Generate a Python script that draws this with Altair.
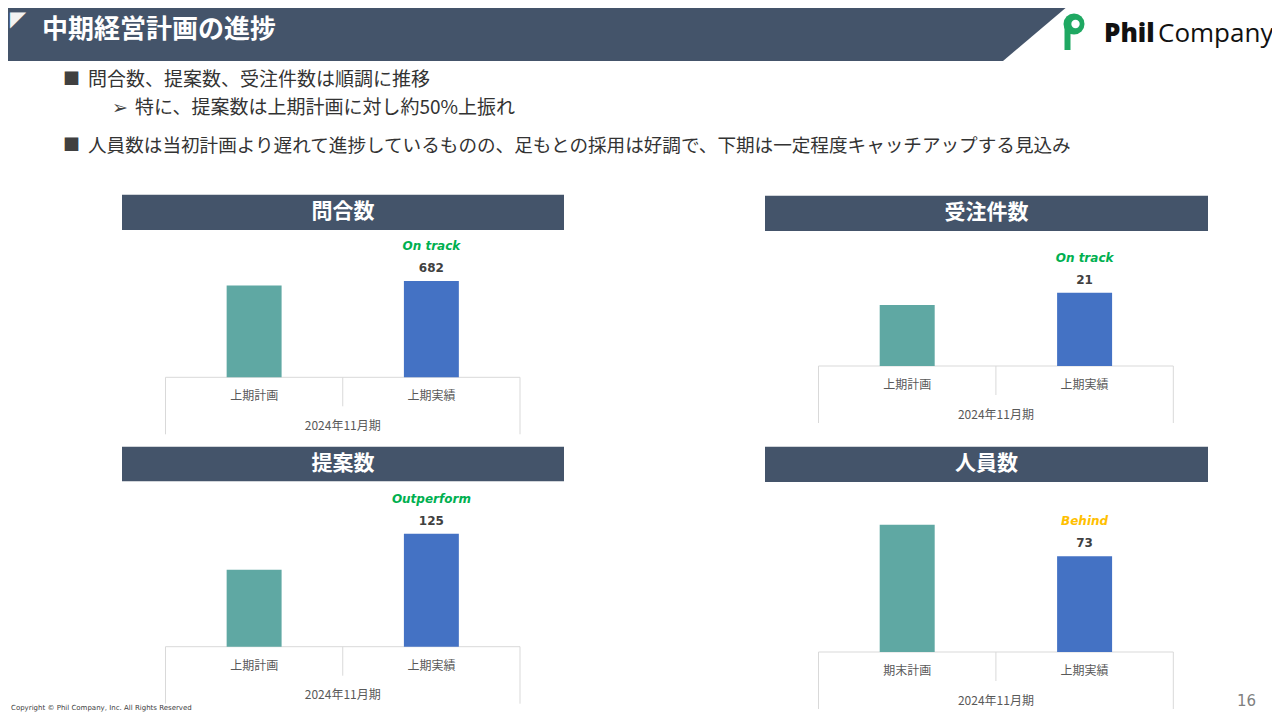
import altair as alt
import pandas as pd

# ---------------- data ----------------
panel_titles = ["問合数", "受注件数", "提案数", "人員数"]
plan_labels = ["上期計画", "上期計画", "上期計画", "期末計画"]
actual_label = "上期実績"
plan_values = [650, 17.5, 85, 97]
actual_values = [682, 21, 125, 73]
status_text = ["On track", "On track", "Outperform", "Behind"]
period_label = "2024年11月期"

slide_title = "中期経営計画の進捗"
bullet_1 = "問合数、提案数、受注件数は順調に推移"
bullet_1_sub = "特に、提案数は上期計画に対し約50%上振れ"
bullet_2 = "人員数は当初計画より遅れて進捗しているものの、足もとの採用は好調で、下期は一定程度キャッチアップする見込み"
copyright_text = "Copyright © Phil Company, Inc.  All Rights Reserved"
page_number = "16"

# ---------------- style / layout ----------------
OFF = 8  # page margin
W, H = 1264, 704
JP = "Noto Sans CJK JP"
NAVY = "#44546A"
TEAL = "#5FA8A3"
BLUE = "#4472C4"
GREEN = "#00B050"
YELLOW = "#FFC000"
status_colors = [GREEN, GREEN, GREEN, YELLOW]
GRID = "#D9D9D9"

# per panel: axis left, axis right, baseline, plot height, y max, title box (x0, y0, x1, y1)
layout = [
    dict(x0=165.5, x1=520.0, base=377.3, h=113.0, ymax=800, box=(122, 194.7, 564, 230)),
    dict(x0=818.5, x1=1173.3, base=366.0, h=87.3, ymax=25, box=(765, 195.7, 1208, 231)),
    dict(x0=165.5, x1=520.0, base=646.7, h=126.6, ymax=140, box=(122, 446.7, 564, 481.3)),
    dict(x0=818.5, x1=1173.3, base=652.0, h=144.2, ymax=110, box=(765, 446.7, 1208, 482)),
]


def X(v):
    return v - OFF


def Y(v):
    return v - OFF


one = pd.DataFrame({"_": [0]})


def rect(x0, y0, x1, y1, color):
    return alt.Chart(one).mark_rect(color=color).encode(
        x=alt.value(X(x0)), x2=alt.value(X(x1)), y=alt.value(Y(y0)), y2=alt.value(Y(y1))
    )


def rule(x0, y0, x1, y1, color=GRID, width=1):
    return alt.Chart(one).mark_rule(color=color, strokeWidth=width).encode(
        x=alt.value(X(x0)), x2=alt.value(X(x1)), y=alt.value(Y(y0)), y2=alt.value(Y(y1))
    )


def txt(s, x, y, size, color, weight="normal", align="left", font=JP, style="normal", baseline="middle"):
    return alt.Chart(one).mark_text(
        text=s, align=align, baseline=baseline, fontSize=size, font=font,
        fontWeight=weight, fontStyle=style, color=color
    ).encode(x=alt.value(X(x)), y=alt.value(Y(y)))


def shape(path, cx, cy, half, color):
    return alt.Chart(one).mark_point(
        shape=path, filled=True, color=color, opacity=1, strokeWidth=0, size=(2 * half) ** 2
    ).encode(x=alt.value(X(cx)), y=alt.value(Y(cy)))


layers = []

# header band with slanted right edge: (0,0) (1075,0) (1003,61) (0,61)
hx0, hx1, hx2, hy = 0, 1075, 1003, 61
hcx, hhalf = (hx0 + hx1) / 2, (hx1 - hx0) / 2
hcy = hy / 2
u = (hy / 2) / hhalf
xb = (hx2 - hcx) / hhalf
layers.append(shape(f"M-1,{-u:.5f}L1,{-u:.5f}L{xb:.5f},{u:.5f}L-1,{u:.5f}Z", hcx, hcy, hhalf, NAVY))
layers.append(txt(slide_title, 42, 30, 26, "white", weight="bold"))

# logo
layers.append(shape("circle", 1074, 24, 10.5, "#1FA862"))
layers.append(rect(1064.5, 24, 1070.5, 50, "#1FA862"))
layers.append(shape("circle", 1075.5, 24, 4.2, "white"))
layers.append(txt("Phil", 1104, 42, 26, "#111111", weight=800, font="Open Sans", baseline="alphabetic"))
layers.append(txt("Company", 1158, 42, 26, "#111111", font="Open Sans", baseline="alphabetic"))

# bullets
TXT = "#333333"
layers.append(txt("■", 63, 80, 17, "#404040"))
layers.append(txt(bullet_1, 88, 80, 19, TXT))
layers.append(txt("➢", 112, 108, 19, "#404040", font="DejaVu Sans"))
layers.append(txt(bullet_1_sub, 135, 108, 19, TXT))
layers.append(txt("■", 63, 146, 17, "#404040"))
layers.append(txt(bullet_2, 88, 146, 18.6, TXT))

# footer
layers.append(txt(copyright_text, 11, 708, 7, "#404040", font="DejaVu Sans"))
layers.append(txt(page_number, 1256, 701, 15, "#7F7F7F", align="right", font="DejaVu Sans"))


def fmt(v):
    return str(int(v)) if float(v).is_integer() else str(v)


panels = []
for i, lay in enumerate(layout):
    bx0, by0, bx1, by1 = lay["box"]
    layers.append(rect(bx0, by0, bx1, by1, NAVY))
    layers.append(txt(panel_titles[i], (bx0 + bx1) / 2, (by0 + by1) / 2, 21, "white", weight="bold", align="center"))

    x0, x1, base = lay["x0"], lay["x1"], lay["base"]
    mid = (x0 + x1) / 2
    layers.append(rule(x0, base, x1, base))
    layers.append(rule(x0, base, x0, base + 57))
    layers.append(rule(x1, base, x1, base + 57))
    layers.append(rule(mid, base, mid, base + 29))
    layers.append(txt(period_label, mid, base + 48.5, 12, "#595959", align="center"))

    df = pd.DataFrame({
        "cat": [plan_labels[i], actual_label],
        "kind": ["計画", "実績"],
        "value": [plan_values[i], actual_values[i]],
        "label": ["", fmt(actual_values[i])],
        "status": ["", status_text[i]],
    })
    xenc = alt.X("cat:N", sort=None, axis=None,
                 scale=alt.Scale(domain=[plan_labels[i], actual_label], range=[X(x0), X(x1)],
                                 paddingInner=0, paddingOuter=0))
    yenc = alt.Y("value:Q", axis=None,
                 scale=alt.Scale(domain=[0, lay["ymax"]], range=[Y(base), Y(base) - lay["h"]], nice=False))
    base_ch = alt.Chart(df)
    bars = base_ch.mark_bar(width={"band": 0.31}).encode(
        x=xenc, y=yenc,
        color=alt.Color("kind:N", scale=alt.Scale(domain=["計画", "実績"], range=[TEAL, BLUE]), legend=None),
    )
    vals = base_ch.mark_text(dy=-13, fontSize=12, fontWeight="bold", font="DejaVu Sans", color="#404040",
                             baseline="middle").encode(x=xenc, y=yenc, text="label:N")
    stat = base_ch.mark_text(dy=-35, fontSize=12, fontWeight="bold", fontStyle="italic", font="DejaVu Sans",
                             color=status_colors[i], baseline="middle").encode(x=xenc, y=yenc, text="status:N")
    cats = base_ch.mark_text(fontSize=12, font=JP, color="#595959", baseline="middle").encode(
        x=xenc, y=alt.value(Y(base + 19)), text="cat:N")
    panels.append(alt.layer(bars, vals, stat, cats))

# small light corner triangle in the header (drawn last, on top)
layers.append(txt("◤", 10, 20, 21, "#F2F2F2", font="DejaVu Sans"))

chart = alt.layer(*layers, *panels).resolve_scale(x="independent", y="independent").properties(
    width=W, height=H, padding=0, autosize=alt.AutoSizeParams(type="none"), background="white"
).configure_view(stroke=None)

chart.save("out.html", embed_options={"renderer": "svg", "actions": False})
